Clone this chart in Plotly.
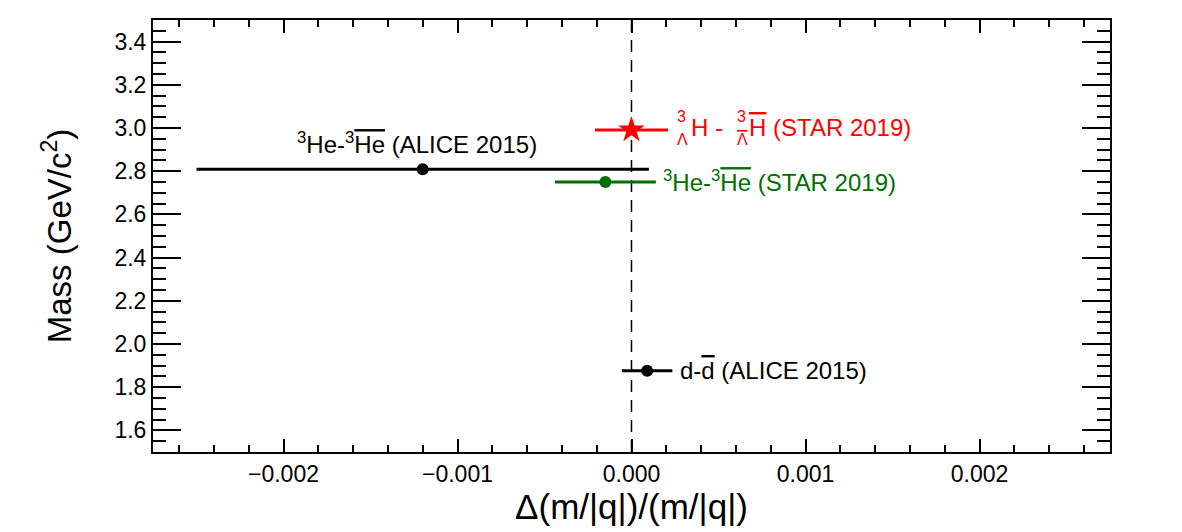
import plotly.graph_objects as go

# Data
labels = ["3He ALICE 2015", "3He STAR 2019", "hypertriton STAR 2019", "d ALICE 2015"]
x_vals = [-1.2e-3, -0.15e-3, 0.0, 0.09e-3]
x_errs = [1.30e-3, 0.29e-3, 0.21e-3, 0.145e-3]
y_vals = [2.809, 2.75, 2.991, 1.876]
colors = ["black", "#006e00", "red", "black"]
symbols = ["circle", "circle", "star", "circle"]
sizes = [12, 12, 20, 12]

x_ticks = [-0.002, -0.001, 0.0, 0.001, 0.002]
x_ticktext = ["\u22120.002", "\u22120.001", "0.000", "0.001", "0.002"]
y_ticks = [1.6, 1.8, 2.0, 2.2, 2.4, 2.6, 2.8, 3.0, 3.2, 3.4]
y_ticktext = ["%.1f" % v for v in y_ticks]

FONT = "Liberation Sans, Arial, sans-serif"

fig = go.Figure()

# dashed zero line
fig.add_shape(type="line", x0=0, x1=0, y0=1.5, y1=3.5, xref="x", yref="y",
              line=dict(color="black", width=1.5, dash="12px,8px"), layer="below")

for i in range(len(x_vals)):
    fig.add_trace(go.Scatter(
        x=[x_vals[i]], y=[y_vals[i]], mode="markers",
        marker=dict(color=colors[i], symbol=symbols[i], size=sizes[i], line=dict(width=0)),
        error_x=dict(type="data", array=[x_errs[i]], color=colors[i], thickness=3, width=0),
        showlegend=False, name=labels[i], cliponaxis=False))

OL = '<span style="text-decoration:overline">%s</span>'

ann = []
# ALICE 3He
ann.append(dict(x=-1.23e-3, y=2.93, text="<sup>3</sup>He-<sup>3</sup>" + OL % "He" + " (ALICE 2015)",
                font=dict(color="black", size=24), xanchor="center", yanchor="middle"))
# STAR 3He
ann.append(dict(x=0.17e-3, y=2.755, text="<sup>3</sup>He-<sup>3</sup>" + OL % "He" + " (STAR 2019)",
                font=dict(color="#006e00", size=24), xanchor="left", yanchor="middle"))
# deuteron
ann.append(dict(x=0.265e-3, y=1.878, text="d-" + OL % "d" + " (ALICE 2015)",
                font=dict(color="black", size=24), xanchor="left", yanchor="middle"))
# hypertriton (pre-scripts stacked)
ann.append(dict(x=0.252e-3, y=3.055, text="3", font=dict(color="red", size=16), xanchor="left", yanchor="middle"))
ann.append(dict(x=0.252e-3, y=2.945, text="\u039b", font=dict(color="red", size=16), xanchor="left", yanchor="middle"))
ann.append(dict(x=0.33e-3, y=3.003, text="H - ", font=dict(color="red", size=24), xanchor="left", yanchor="middle"))
ann.append(dict(x=0.595e-3, y=3.055, text="3", font=dict(color="red", size=16), xanchor="left", yanchor="middle"))
ann.append(dict(x=0.595e-3, y=2.945, text=OL % "\u039b", font=dict(color="red", size=16), xanchor="left", yanchor="middle"))
ann.append(dict(x=0.665e-3, y=3.003, text=OL % "H" + " (STAR 2019)", font=dict(color="red", size=24),
                xanchor="left", yanchor="middle"))

for a in ann:
    a.update(xref="x", yref="y", showarrow=False)
    a["font"]["family"] = FONT

fig.update_layout(
    width=1182, height=532,
    margin=dict(l=153, r=72, t=20, b=80),
    paper_bgcolor="white", plot_bgcolor="white",
    font=dict(family=FONT, color="black", size=23),
    annotations=ann,
    xaxis=dict(range=[-0.00275, 0.00275], tickvals=x_ticks, ticktext=x_ticktext,
               ticks="inside", ticklen=13, tickwidth=2, tickcolor="black",
               minor=dict(dtick=0.0002, ticks="inside", ticklen=7, tickwidth=2, tickcolor="black"),
               showline=True, linecolor="black", linewidth=2, mirror="allticks",
               showgrid=False, zeroline=False,
               tickfont=dict(size=23),
               title=dict(text="\u0394(m/|q|)/(m/|q|)", font=dict(size=35), standoff=8)),
    yaxis=dict(range=[1.5, 3.5], tickvals=y_ticks, ticktext=y_ticktext,
               ticks="inside", ticklen=28, tickwidth=2, tickcolor="black",
               minor=dict(dtick=0.05, ticks="inside", ticklen=13, tickwidth=2, tickcolor="black"),
               showline=True, linecolor="black", linewidth=2, mirror="allticks",
               showgrid=False, zeroline=False,
               tickfont=dict(size=23),
               title=dict(text="Mass (GeV/c<sup>2</sup>)", font=dict(size=33), standoff=33)),
)

fig.write_html("out.html")
